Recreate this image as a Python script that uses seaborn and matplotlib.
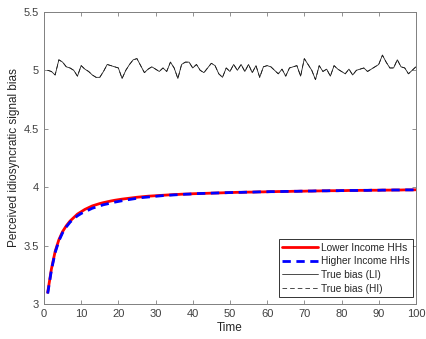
import numpy as np
import pandas as pd
import seaborn as sns
import matplotlib
matplotlib.use("Agg")
import matplotlib.pyplot as plt

# values
time = list(range(1, 101))

lower_income = [3.10, 3.30, 3.45, 3.55, 3.62, 3.67, 3.71, 3.74, 3.77, 3.79,
                3.81, 3.825, 3.84, 3.85, 3.86, 3.868, 3.875, 3.882, 3.888, 3.893,
                3.898, 3.902, 3.906, 3.910, 3.914, 3.917, 3.920, 3.923, 3.925, 3.927,
                3.929, 3.931, 3.933, 3.935, 3.937, 3.938, 3.940, 3.941, 3.942, 3.944,
                3.945, 3.946, 3.947, 3.948, 3.949, 3.950, 3.951, 3.952, 3.953, 3.954,
                3.955, 3.956, 3.956, 3.957, 3.958, 3.958, 3.959, 3.960, 3.960, 3.961,
                3.962, 3.962, 3.963, 3.963, 3.964, 3.964, 3.965, 3.965, 3.966, 3.966,
                3.967, 3.967, 3.968, 3.968, 3.969, 3.969, 3.970, 3.970, 3.970, 3.971,
                3.971, 3.972, 3.972, 3.972, 3.973, 3.973, 3.973, 3.974, 3.974, 3.974,
                3.975, 3.975, 3.975, 3.976, 3.976, 3.976, 3.977, 3.977, 3.977, 3.978]

higher_income = [3.09, 3.29, 3.44, 3.54, 3.61, 3.66, 3.70, 3.73, 3.755, 3.775,
                 3.79, 3.805, 3.82, 3.83, 3.84, 3.85, 3.857, 3.865, 3.872, 3.878,
                 3.884, 3.89, 3.895, 3.90, 3.905, 3.91, 3.913, 3.916, 3.919, 3.922,
                 3.925, 3.928, 3.930, 3.932, 3.934, 3.936, 3.938, 3.940, 3.941, 3.943,
                 3.945, 3.946, 3.947, 3.948, 3.949, 3.950, 3.951, 3.952, 3.953, 3.954,
                 3.955, 3.956, 3.956, 3.957, 3.958, 3.958, 3.959, 3.960, 3.960, 3.961,
                 3.962, 3.962, 3.963, 3.963, 3.964, 3.964, 3.965, 3.965, 3.966, 3.966,
                 3.967, 3.967, 3.968, 3.968, 3.969, 3.969, 3.970, 3.970, 3.970, 3.971,
                 3.971, 3.972, 3.972, 3.972, 3.973, 3.973, 3.973, 3.974, 3.974, 3.974,
                 3.975, 3.975, 3.975, 3.976, 3.976, 3.976, 3.977, 3.977, 3.977, 3.978]

true_bias_li = [5.00, 4.99, 4.96, 5.09, 5.07, 5.03, 5.02, 5.00, 4.95, 5.04,
                5.01, 4.99, 4.96, 4.94, 4.94, 4.99, 5.05, 5.04, 5.03, 5.02,
                4.93, 5.00, 5.05, 5.09, 5.10, 5.04, 4.98, 5.01, 5.03, 5.01,
                4.99, 5.02, 4.99, 5.07, 5.02, 4.93, 5.05, 5.07, 5.07, 5.02,
                5.05, 5.00, 4.98, 5.02, 5.06, 5.04, 4.97, 4.94, 5.02, 4.99,
                5.05, 5.00, 5.05, 4.99, 5.05, 4.98, 5.04, 4.94, 5.03, 5.04,
                5.03, 5.00, 4.97, 5.01, 4.95, 5.02, 5.03, 5.04, 4.95, 5.10,
                5.05, 5.00, 4.92, 5.04, 4.99, 5.01, 4.95, 5.04, 5.01, 4.99,
                4.97, 5.01, 4.96, 5.00, 5.01, 5.02, 4.99, 5.01, 5.03, 5.05,
                5.13, 5.07, 5.02, 5.02, 5.09, 5.03, 5.02, 4.97, 5.00, 5.03]
true_bias_hi = list(true_bias_li)

sns.set_style("white")
plt.rcParams['font.family'] = ['Liberation Sans', 'DejaVu Sans']

fig = plt.figure(figsize=(4.27, 3.39), dpi=100)
ax = fig.add_axes([0.103, 0.103, 0.871, 0.862])

sns.lineplot(x=time, y=lower_income, color='red', linewidth=2.0, label='Lower Income HHs', ax=ax)
sns.lineplot(x=time, y=higher_income, color='blue', linewidth=2.0, linestyle=(0, (3, 2)),
             label='Higher Income HHs', ax=ax)
sns.lineplot(x=time, y=true_bias_li, color='#1a1a1a', linewidth=0.55, label='True bias (LI)', ax=ax)
sns.lineplot(x=time, y=true_bias_hi, color='#1a1a1a', linewidth=0.55, linestyle=(0, (6, 4)),
             label='True bias (HI)', ax=ax)

ax.set_xlim(0, 100)
ax.set_ylim(3, 5.5)
ax.set_xticks(np.arange(0, 101, 10))
ax.set_yticks(np.arange(3, 5.51, 0.5))
ax.set_yticklabels(['3', '3.5', '4', '4.5', '5', '5.5'])
grey = '#262626'
for s in ax.spines.values():
    s.set_visible(True)
    s.set_color('#808080')
    s.set_linewidth(0.7)
ax.tick_params(direction='in', length=3, width=0.6, colors='#808080', labelcolor='#404040',
               labelsize=8, top=True, right=True, bottom=True, left=True)
ax.set_xlabel('Time', fontsize=8.5, color=grey, labelpad=2)
ax.set_ylabel('Perceived idiosyncratic signal bias', fontsize=8.5, color=grey, labelpad=3)

leg = ax.legend(loc='lower right', bbox_to_anchor=(0.992, 0.024), fontsize=7.3, frameon=True,
                fancybox=False, borderaxespad=0, handlelength=3.5, labelspacing=0.35,
                borderpad=0.35, handletextpad=0.3)
leg.get_frame().set_edgecolor('black')
leg.get_frame().set_linewidth(0.7)

fig.savefig('out.png', dpi=100)
